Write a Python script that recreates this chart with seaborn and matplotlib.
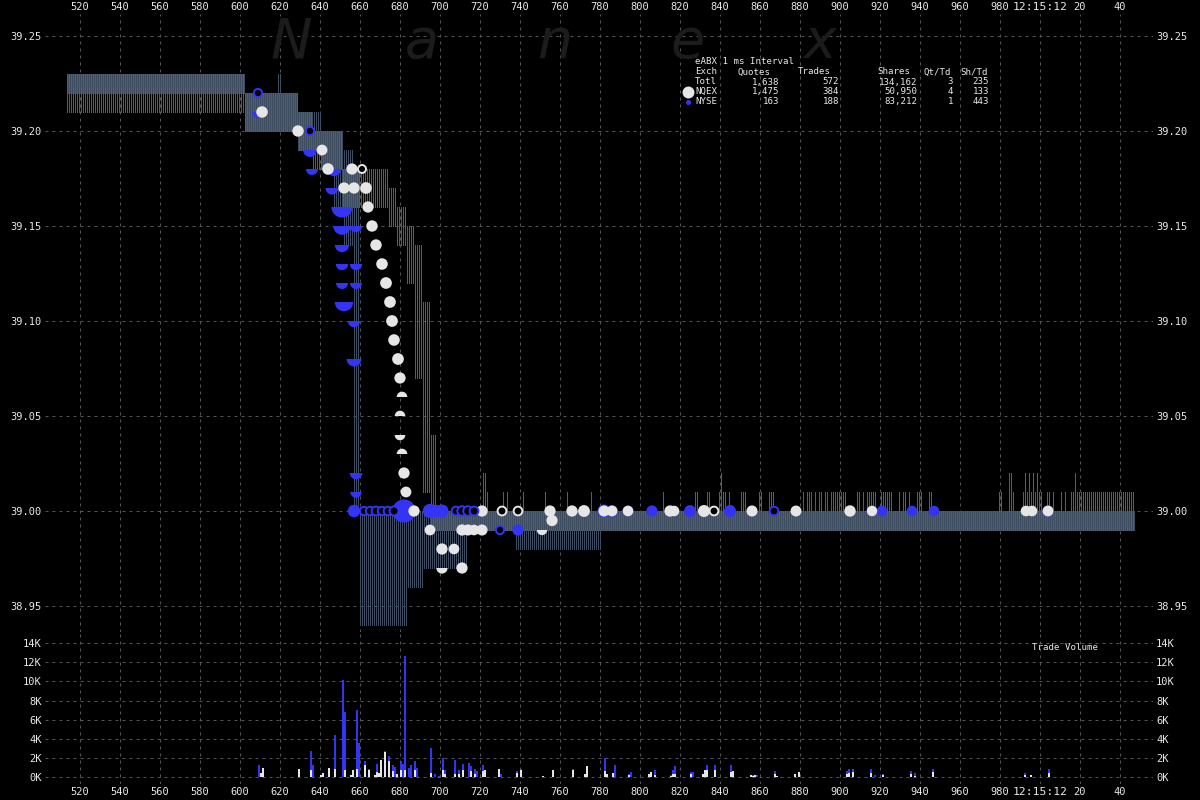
import numpy as np
import pandas as pd
import matplotlib.pyplot as plt
from matplotlib.markers import MarkerStyle
from matplotlib.ticker import FixedLocator, FuncFormatter
import seaborn as sns

sns.set_style("dark", {"axes.facecolor": "black", "figure.facecolor": "black"})
plt.rcParams["font.family"] = ["DejaVu Sans Mono"]

# quote bands per ms: (start_ms, end_ms, bid, ask)
nbbo_segs = [
    (513, 602, 39.21, 39.23), (602, 629, 39.20, 39.22), (629, 636, 39.19, 39.21),
    (636, 651, 39.18, 39.20), (651, 674, 39.16, 39.18), (674, 678, 39.15, 39.17),
    (678, 683, 39.14, 39.16), (683, 687, 39.12, 39.15), (687, 691, 39.07, 39.14),
    (691, 695, 39.01, 39.11), (695, 698, 38.99, 39.04), (698, 1015, 38.99, 39.00),
    (1015, 1047, 38.99, 39.01),
]
nyse_segs = [
    (513, 602, 39.22, 39.23), (602, 618, 39.20, 39.22), (618, 620, 39.20, 39.23),
    (620, 628, 39.20, 39.22), (628, 640, 39.19, 39.21), (640, 646, 39.18, 39.20),
    (646, 651, 39.16, 39.20), (651, 656, 39.14, 39.19), (656, 659, 39.00, 39.18),
    (659, 683, 38.94, 39.00), (683, 691, 38.96, 39.00), (691, 713, 38.97, 39.00),
    (713, 737, 38.99, 39.00), (737, 780, 38.98, 39.00), (780, 1047, 38.99, 39.00),
]
# single-ms ask flickers above 39.00
flick_ms = [721, 722, 723, 731, 733, 741, 752, 763, 775, 811, 827, 828, 833, 834,
            839, 840, 841, 842, 844, 850, 851, 852, 859, 860, 864, 865, 866, 881,
            883, 884, 885, 887, 889, 890, 892, 893, 895, 896, 897, 898, 899, 900,
            901, 902, 908, 909, 911, 913, 914, 915, 916, 917, 920, 921, 922, 923,
            924, 925, 929, 931, 932, 934, 938, 939, 940, 944, 945, 979, 980, 984,
            985, 986, 991, 992, 993, 994, 995, 996, 997, 998, 999, 1000, 1003,
            1004, 1006, 1010, 1012, 1017]
flick_top = [39.02 if m in (721, 722, 840, 984, 985, 992, 994, 996, 998, 1017) else 39.01
             for m in flick_ms]

# trades: (ms, price, shares, kind)  kind F=full, A=upper half, B=lower half, R=ring
nyse_trades = [
    (609, 39.22, 300, "R"), (609, 39.21, 1200, "B"), (635, 39.20, 300, "R"),
    (635, 39.19, 2700, "B"), (636, 39.18, 1200, "B"), (647, 39.18, 3000, "B"),
    (646, 39.17, 2000, "B"), (651, 39.16, 10000, "B"), (651, 39.15, 6000, "B"),
    (658, 39.15, 1500, "B"), (651, 39.14, 3000, "B"), (651, 39.13, 1500, "B"),
    (658, 39.13, 1500, "B"), (651, 39.12, 1200, "B"), (658, 39.12, 1200, "B"),
    (652, 39.11, 7000, "B"), (657, 39.10, 1500, "B"), (657, 39.08, 3500, "B"),
    (658, 39.02, 1600, "B"), (658, 39.01, 800, "B"), (657, 39.00, 1600, "F"),
    (662, 39.00, 400, "R"), (665, 39.00, 400, "R"), (668, 39.00, 800, "R"),
    (671, 39.00, 400, "R"), (674, 39.00, 600, "R"), (677, 39.00, 1000, "R"),
    (682, 39.00, 12700, "F"), (695, 39.00, 3000, "F"), (698, 39.00, 1500, "F"),
    (701, 39.00, 2000, "F"), (708, 39.00, 700, "R"), (711, 39.00, 1300, "R"),
    (714, 39.00, 1400, "R"), (717, 39.00, 800, "R"), (730, 38.99, 300, "R"),
    (739, 38.99, 800, "F"), (782, 39.00, 2000, "F"), (786, 39.00, 1200, "F"),
    (794, 39.00, 500, "F"), (806, 39.00, 700, "F"), (825, 39.00, 1100, "F"),
    (845, 39.00, 1200, "F"), (867, 39.00, 600, "R"), (916, 39.00, 400, "F"),
    (921, 39.00, 300, "F"), (936, 39.00, 300, "F"), (947, 39.00, 300, "F"),
    (1004, 39.00, 800, "F"),
]
nqex_trades = [
    (611, 39.21, 900, "F"), (629, 39.20, 800, "F"), (641, 39.19, 400, "F"),
    (644, 39.18, 900, "F"), (656, 39.18, 700, "F"), (661, 39.18, 50, "R"),
    (652, 39.17, 700, "F"), (657, 39.17, 700, "F"), (663, 39.17, 1000, "F"),
    (664, 39.16, 700, "F"), (666, 39.15, 800, "F"), (668, 39.14, 800, "F"),
    (671, 39.13, 900, "F"), (673, 39.12, 1000, "F"), (675, 39.11, 1000, "F"),
    (676, 39.10, 1000, "F"), (677, 39.09, 900, "F"), (679, 39.08, 1000, "F"),
    (680, 39.07, 700, "F"), (681, 39.06, 300, "A"), (680, 39.05, 300, "A"),
    (680, 39.04, 300, "B"), (681, 39.03, 300, "A"), (682, 39.02, 700, "F"),
    (683, 39.01, 400, "F"), (687, 39.00, 700, "F"), (695, 38.99, 400, "F"),
    (701, 38.98, 700, "F"), (707, 38.98, 300, "F"), (701, 38.97, 700, "B"),
    (711, 38.97, 700, "F"), (711, 38.99, 700, "F"), (714, 38.99, 600, "F"),
    (717, 38.99, 300, "F"), (721, 38.99, 600, "F"), (721, 39.00, 700, "F"),
    (731, 39.00, 800, "R"), (739, 39.00, 700, "R"), (751, 38.99, 50, "B"),
    (755, 39.00, 700, "F"), (756, 38.995, 700, "F"), (766, 39.00, 700, "F"),
    (772, 39.00, 1100, "F"), (782, 39.00, 600, "F"), (786, 39.00, 400, "F"),
    (794, 39.00, 300, "F"), (815, 39.00, 700, "F"), (817, 39.00, 300, "F"),
    (832, 39.00, 1200, "F"), (837, 39.00, 700, "R"), (856, 39.00, 600, "F"),
    (878, 39.00, 500, "F"), (905, 39.00, 800, "F"), (916, 39.00, 200, "F"),
    (993, 39.00, 300, "F"), (996, 39.00, 300, "F"), (1004, 39.00, 400, "F"),
]

# trade volume per ms
vol_ms = [609, 610, 611, 629, 635, 636, 640, 641, 644, 647, 651, 652, 655, 656, 658,
          659, 662, 664, 667, 668, 669, 670, 672, 674, 676, 677, 678, 680, 681, 682,
          684, 685, 687, 688, 695, 697, 699, 701, 702, 707, 709, 711, 714, 715, 717,
          718, 721, 722, 729, 730, 738, 740, 751, 756, 766, 772, 773, 782, 783, 786,
          787, 794, 795, 804, 805, 807, 815, 816, 817, 825, 826, 831, 832, 833, 837,
          845, 846, 855, 856, 857, 858, 867, 868, 877, 879, 903, 904, 906, 915, 917,
          921, 935, 937, 946, 992, 995, 1004]
vol_nqex = [0, 400, 900, 800, 700, 0, 200, 400, 900, 800, 0, 700, 200, 700, 800,
            0, 1200, 700, 200, 500, 400, 1800, 2600, 1600, 600, 0, 300, 700, 0, 700,
            0, 0, 700, 0, 400, 0, 0, 700, 300, 300, 300, 700, 0, 600, 300,
            0, 600, 700, 800, 0, 400, 700, 50, 700, 700, 300, 1100, 600, 300, 400,
            0, 200, 0, 300, 500, 200, 100, 300, 300, 300, 0, 300, 700, 700, 700,
            500, 600, 200, 100, 200, 0, 300, 100, 300, 500, 300, 400, 500, 400, 0,
            200, 300, 100, 500, 200, 200, 400]
vol_nyse = [1200, 0, 0, 0, 2000, 1200, 0, 0, 0, 3600, 10150, 6100, 0, 0, 6200,
            3500, 400, 100, 0, 800, 0, 0, 100, 600, 600, 1000, 0, 900, 1300, 12000,
            900, 1200, 900, 900, 2600, 300, 100, 1300, 400, 1500, 400, 600, 1400, 500, 500,
            600, 600, 0, 0, 300, 200, 100, 0, 0, 100, 0, 0, 1400, 0, 0,
            1200, 100, 500, 0, 0, 500, 100, 400, 800, 200, 500, 0, 0, 500, 500,
            700, 0, 0, 100, 0, 200, 300, 0, 0, 0, 300, 400, 300, 400, 200,
            100, 300, 300, 300, 200, 0, 400]

price_ticks = [38.95, 39.00, 39.05, 39.10, 39.15, 39.20, 39.25]
vol_ticks = [0, 2000, 4000, 6000, 8000, 10000, 12000, 14000]
x_ticks = list(range(520, 1041, 20))

GRAY = "#4e6464"
BAND_BLUE = "#3e4c60"
DOT_BLUE = "#3434f4"
WHITE = "#e6e6e6"
TXT = "#e8e8e8"
pal = {"NQEX": WHITE, "NYSE": DOT_BLUE}

fig = plt.figure(figsize=(12, 8), dpi=100)
W, H = 1200.0, 800.0
ax = fig.add_axes([45 / W, 1 - 632 / H, 1108 / W, 618 / H])
axv = fig.add_axes([45 / W, 1 - 784 / H, 1108 / W, 152 / H], sharex=ax)

ax.set_xlim(502.5, 1056.5)
ax.set_ylim(39.0 - 121 / 1900, 39.0 + 497 / 1900)
axv.set_ylim(-(784 - 776.7) * 105, (776.7 - 632) * 105)


def draw_band(segs, color, offset):
    xs, lo, hi = [], [], []
    for s, e, b, a in segs:
        m = np.arange(s, e)
        xs.append(m + offset)
        lo.append(np.full(len(m), b))
        hi.append(np.full(len(m), a))
    ax.vlines(np.concatenate(xs), np.concatenate(lo), np.concatenate(hi),
              colors=color, linewidth=0.72, antialiased=False, zorder=2)


draw_band(nbbo_segs, GRAY, 0.25)
draw_band(nyse_segs, BAND_BLUE, 0.75)
ax.vlines(np.array(flick_ms) + 0.25, 39.0, flick_top, colors=GRAY,
          linewidth=0.72, antialiased=False, zorder=2)

# trades
rows = [(m, p, "NYSE", s, k) for m, p, s, k in nyse_trades] + \
       [(m, p, "NQEX", s, k) for m, p, s, k in nqex_trades]
trades = pd.DataFrame(rows, columns=["ms", "price", "exch", "shares", "kind"])
markers = {"F": MarkerStyle("o"), "A": MarkerStyle("o", fillstyle="top"),
           "B": MarkerStyle("o", fillstyle="bottom")}
SIZES = (55, 280)


def size_of(sh):
    sh = np.clip(np.asarray(sh, dtype=float), 100, 12700)
    return SIZES[0] + (SIZES[1] - SIZES[0]) * (sh - 100) / 12600


for exch in ["NYSE", "NQEX"]:
    for kind, mk in markers.items():
        sub = trades[(trades.exch == exch) & (trades.kind == kind)]
        if sub.empty:
            continue
        sns.scatterplot(data=sub, x="ms", y="price", hue="exch", palette=pal,
                        size="shares", sizes=SIZES, size_norm=(100, 12700),
                        marker=mk, linewidth=0, legend=False, ax=ax, zorder=4)
rings = trades[trades.kind == "R"]
ax.scatter(rings.ms, rings.price, s=size_of(rings.shares) * 0.6, facecolors="black",
           edgecolors=rings.exch.map(pal), linewidths=1.4, zorder=5)

# volume bars
vx = np.array(vol_ms) + 0.5
axv.bar(vx, vol_nqex, width=0.9, color=WHITE, linewidth=0, zorder=3)
axv.bar(vx, vol_nyse, bottom=vol_nqex, width=0.9, color=DOT_BLUE, linewidth=0, zorder=3)

# axes styling
for a in (ax, axv):
    a.set_facecolor("black")
    for sp in a.spines.values():
        sp.set_visible(False)
    a.grid(True, color="#555555", linestyle=(0, (3, 4)), linewidth=0.72)
    a.set_axisbelow(True)
    a.set_xlabel("")
    a.set_ylabel("")
    a.xaxis.set_major_locator(FixedLocator(x_ticks))


def xfmt(v, pos):
    v = int(round(v))
    if v == 1000:
        return "12:15:12"
    return str(v - 1000) if v > 1000 else str(v)


ax.yaxis.set_major_locator(FixedLocator(price_ticks))
ax.yaxis.set_major_formatter(FuncFormatter(lambda v, p: f"{v:.2f}"))
ax.tick_params(axis="x", top=True, bottom=False, labeltop=True, labelbottom=False,
               length=0, pad=1.6, labelsize=7.5, labelcolor=TXT)
ax.tick_params(axis="y", left=True, right=True, labelleft=True, labelright=True,
               length=0, pad=2.2, labelsize=7.5, labelcolor=TXT)
ax.xaxis.set_major_formatter(FuncFormatter(xfmt))

axv.yaxis.set_major_locator(FixedLocator(vol_ticks))
axv.yaxis.set_major_formatter(FuncFormatter(lambda v, p: f"{int(v / 1000)}K"))
axv.tick_params(axis="x", top=False, bottom=True, labeltop=False, labelbottom=True,
                length=0, pad=2.2, labelsize=7.5, labelcolor=TXT)
axv.tick_params(axis="y", left=True, right=True, labelleft=True, labelright=True,
                length=0, pad=2.2, labelsize=7.5, labelcolor=TXT)
for lbl in ax.get_xticklabels() + axv.get_xticklabels():
    if lbl.get_text() == "12:15:12":
        lbl.set_fontsize(8.2)


def fx(x):
    return x / W


def fy(y):
    return 1 - y / H


# watermark
for ch, cx in zip("Nanex", [291, 422, 555, 688, 820]):
    fig.text(fx(cx), fy(42), ch, fontsize=40, style="italic", color="#1c1c1c",
             family="DejaVu Sans", ha="center", va="center", zorder=0.5)

# stats table
tx = dict(fontsize=6.6, color=TXT, va="center")
fig.text(fx(695), fy(62), "eABX 1 ms Interval", ha="left", **tx)
headers = [("Exch", 695), ("Quotes", 738), ("Trades", 798), ("Shares", 877),
           ("Qt/Td", 923), ("Sh/Td", 960)]
for h, x in headers:
    fig.text(fx(x), fy(72), h, ha="left", **tx)
table_rows = [
    ("Totl", "1,638", "572", "134,162", "3", "235"),
    ("NQEX", "1,475", "384", "50,950", "4", "133"),
    ("NYSE", "163", "188", "83,212", "1", "443"),
]
col_right = [779, 839, 917, 953, 989]
for i, row in enumerate(table_rows):
    y = 82 + i * 9.8
    fig.text(fx(695), fy(y), row[0], ha="left", **tx)
    for val, xr in zip(row[1:], col_right):
        fig.text(fx(xr), fy(y), val, ha="right", **tx)
ax.plot([fx(688)], [fy(92)], "o", ms=8.6, color=WHITE, mew=0,
        transform=fig.transFigure, clip_on=False)
ax.plot([fx(688)], [fy(101.6)], "o", ms=3.6, color=DOT_BLUE, mew=0,
        transform=fig.transFigure, clip_on=False)

fig.text(fx(1032), fy(647), "Trade Volume", ha="left", **tx)

fig.savefig("out.png", dpi=100, facecolor="black")
